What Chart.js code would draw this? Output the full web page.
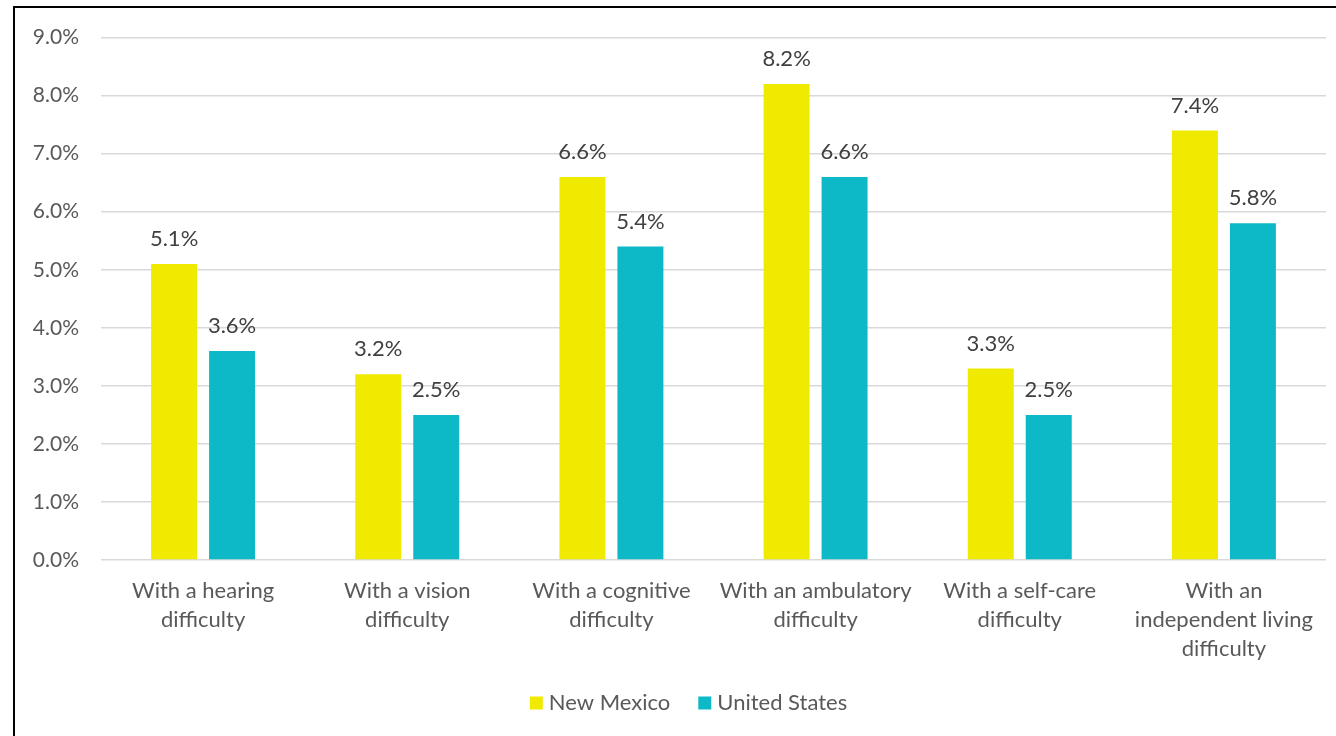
<!DOCTYPE html>
<html>
<head>
<meta charset="utf-8">
<script src="https://cdn.jsdelivr.net/npm/chart.js@4"></script>
<style>
  html, body { margin: 0; padding: 0; background: #fff; overflow: hidden; }
  #frame { position: absolute; left: 13px; top: 6px; width: 1340px; height: 740px; border: 2px solid #000; box-sizing: border-box; }
  #wrap { position: absolute; left: 15px; top: 3px; width: 1321px; height: 733px; }
</style>
</head>
<body>
<div id="frame"></div>
<div id="wrap"><canvas id="chart"></canvas></div>
<script>
const categories = [
  ['With a hearing', 'difficulty'],
  ['With a vision', 'difficulty'],
  ['With a cognitive', 'difficulty'],
  ['With an ambulatory', 'difficulty'],
  ['With a self-care', 'difficulty'],
  ['With an', 'independent living', 'difficulty'],
];
const newMexico = [5.1, 3.2, 6.6, 8.2, 3.3, 7.4];
const unitedStates = [3.6, 2.5, 5.4, 6.6, 2.5, 5.8];
const seriesNames = ['New Mexico', 'United States'];
const yTicks = [0, 1, 2, 3, 4, 5, 6, 7, 8, 9];

const FONT = 'Lato, "Noto Sans", sans-serif';
const YELLOW = '#F0E900';
const TEAL = '#0DB9C7';

// draws the value above each bar
const barLabels = {
  id: 'barLabels',
  afterDatasetsDraw(chart) {
    const ctx = chart.ctx;
    ctx.save();
    ctx.font = '22px ' + FONT;
    ctx.fillStyle = '#404040';
    ctx.textAlign = 'center';
    ctx.textBaseline = 'middle';
    chart.data.datasets.forEach((ds, i) => {
      chart.getDatasetMeta(i).data.forEach((bar, j) => {
        ctx.fillText(ds.data[j].toFixed(1) + '%', bar.x, bar.y - 25);
      });
    });
    ctx.restore();
  }
};

// legend under the axis labels, Excel style: small square, short gap, text
const bottomLegend = {
  id: 'bottomLegend',
  afterDraw(chart) {
    const ctx = chart.ctx;
    const box = 13, gap = 6, between = 28;
    ctx.save();
    ctx.font = '22px ' + FONT;
    ctx.textBaseline = 'middle';
    const items = chart.data.datasets.map(ds => ({ text: ds.label, color: ds.backgroundColor, w: ctx.measureText(ds.label).width }));
    const total = items.reduce((s, it) => s + box + gap + it.w, 0) + between * (items.length - 1);
    let x = chart.width / 2 + 13 - total / 2;
    const y = chart.height - 33;
    items.forEach(it => {
      ctx.fillStyle = it.color;
      ctx.fillRect(x, y - box / 2, box, box);
      ctx.fillStyle = '#595959';
      ctx.fillText(it.text, x + box + gap, y);
      x += box + gap + it.w + between;
    });
    ctx.restore();
  }
};

new Chart(document.getElementById('chart'), {
  type: 'bar',
  data: {
    labels: categories,
    datasets: [
      { label: seriesNames[0], data: newMexico, backgroundColor: YELLOW },
      { label: seriesNames[1], data: unitedStates, backgroundColor: TEAL },
    ],
  },
  plugins: [barLabels, bottomLegend],
  options: {
    responsive: true,
    maintainAspectRatio: false,
    animation: false,
    categoryPercentage: 0.568,
    barPercentage: 0.793,
    layout: { padding: { top: 17, right: 10, bottom: 55, left: 0 } },
    plugins: {
      tooltip: { enabled: false },
      legend: { display: false },
    },
    scales: {
      x: {
        grid: { display: false, drawTicks: false },
        border: { display: false },
        ticks: {
          font: { family: FONT, size: 22, lineHeight: 1.32 },
          color: '#595959',
          padding: 16,
          maxRotation: 0,
          autoSkip: false,
        },
        afterFit(scale) { scale.height = 121; },
      },
      y: {
        min: 0,
        max: 9,
        afterBuildTicks(scale) { scale.ticks = yTicks.map(v => ({ value: v })); },
        grid: { color: '#D9D9D9', lineWidth: 1.5, drawTicks: false },
        border: { display: false },
        ticks: {
          font: { family: FONT, size: 21 },
          color: '#595959',
          padding: 22,
          callback: v => v.toFixed(1) + '%',
        },
        afterFit(scale) { scale.width = 86; },
      },
    },
  },
});
</script>
</body>
</html>
